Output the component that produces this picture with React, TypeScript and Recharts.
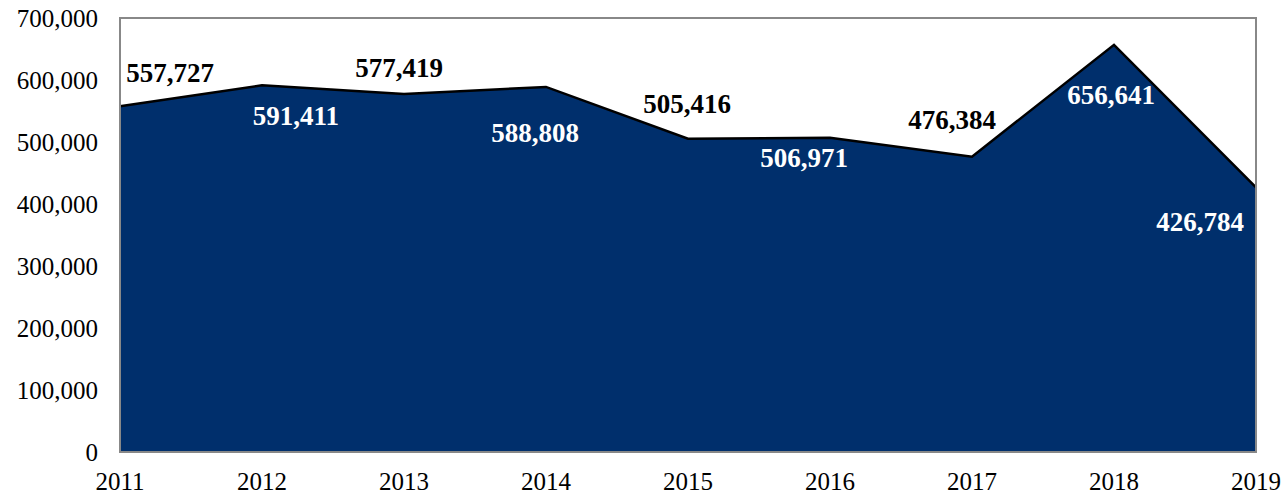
import { AreaChart, Area, XAxis, YAxis, ReferenceArea, LabelList } from "recharts";

const years = [2011, 2012, 2013, 2014, 2015, 2016, 2017, 2018, 2019];
const values = [557727, 591411, 577419, 588808, 505416, 506971, 476384, 656641, 426784];
const yTicks = [0, 100000, 200000, 300000, 400000, 500000, 600000, 700000];

// label placement relative to the point: [dx, dy, white?]
const labelPlacement: [number, number, boolean][] = [
    [50, -33, false],
    [34, 31, true],
    [-5, -26, false],
    [-11, 46, true],
    [-1, -35, false],
    [-26, 20, true],
    [-20, -37, false],
    [-3, 50, true],
    [-56, 35, true],
];

const data = years.map((y, i) => ({ year: y, value: values[i] }));

const font = "'Liberation Serif', 'Times New Roman', serif";
const fmt = (v: number) => v.toLocaleString("en-US");

export default function App() {
    const renderLabel = (props: any) => {
        const { x, y, value, index } = props;
        const [dx, dy, white] = labelPlacement[index] ?? [0, -20, false];
        return (
            <text
                x={x + dx}
                y={y + dy}
                textAnchor="middle"
                dominantBaseline="central"
                fontFamily={font}
                fontWeight="bold"
                fontSize={27}
                fill={white ? "#ffffff" : "#000000"}
            >
                {fmt(value)}
            </text>
        );
    };

    return (
        <div style={{ position: "absolute", left: 0, top: 0 }}>
            <AreaChart width={1288} height={495} data={data} margin={{ top: 18, right: 32, bottom: 0, left: 0 }}>
                <XAxis
                    dataKey="year"
                    type="number"
                    domain={[2011, 2019]}
                    ticks={years}
                    height={43}
                    axisLine={false}
                    tickLine={false}
                    tick={{ fill: "#000", fontSize: 25, fontFamily: font }}
                    tickMargin={14}
                />
                <YAxis
                    domain={[0, 700000]}
                    ticks={yTicks}
                    width={120}
                    axisLine={false}
                    tickLine={false}
                    tickFormatter={fmt}
                    tick={{ fill: "#000", fontSize: 25, fontFamily: font }}
                    tickMargin={16}
                />
                <Area
                    type="linear"
                    dataKey="value"
                    stroke="#000000"
                    strokeWidth={2.5}
                    fill="#002F6C"
                    fillOpacity={1}
                    isAnimationActive={false}
                >
                    <LabelList dataKey="value" content={renderLabel} />
                </Area>
                <ReferenceArea x1={2011} x2={2019} y1={0} y2={700000} fill="none" stroke="#888888" strokeWidth={2} ifOverflow="visible" />
            </AreaChart>
        </div>
    );
}
